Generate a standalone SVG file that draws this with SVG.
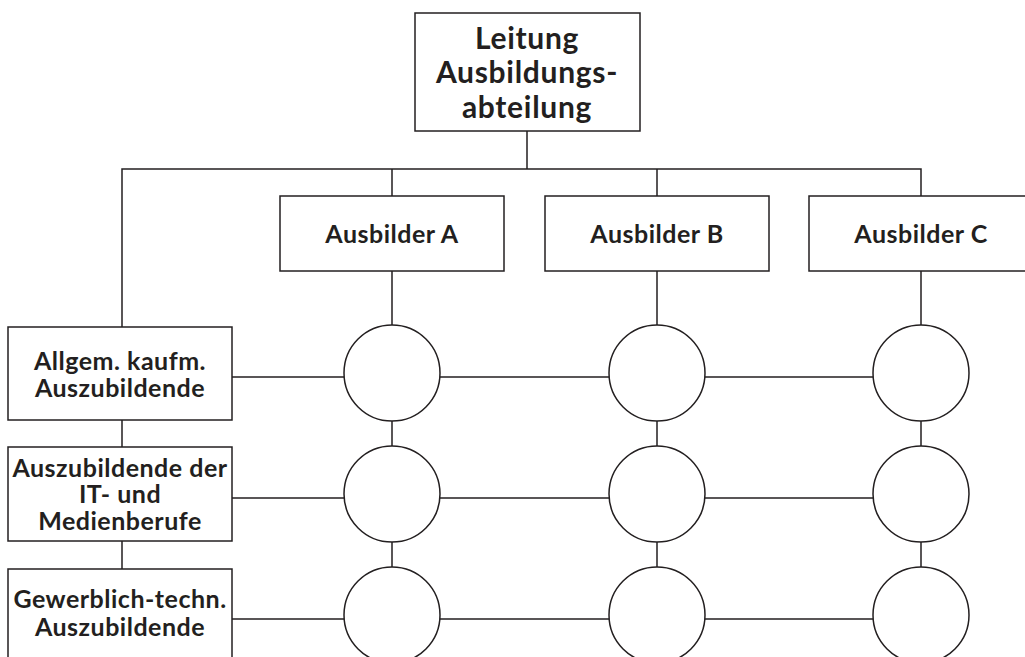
<svg xmlns="http://www.w3.org/2000/svg" width="1025" height="657" viewBox="0 0 1025 657">
<style>
.box{fill:#fff;stroke:#231f20;stroke-width:1.5}
.ln{fill:none;stroke:#231f20;stroke-width:1.5}
.c{fill:#fff;stroke:#231f20;stroke-width:1.5}
text{font-family:Lato,"Open Sans",sans-serif;font-weight:bold;fill:#231f20;text-anchor:middle}
.t1{font-size:30px;letter-spacing:0.7px}
.t2{font-size:25px;letter-spacing:0.5px}
.t3{font-size:25px;letter-spacing:0.5px}
</style>
<rect width="1025" height="657" fill="#fff"/>
<g id="connectors">
<path class="ln" d="M527 131V169M122 327V169H921V196M392 169V196M657 169V196"/>
<path class="ln" d="M392 271V657M657 271V657M921 271V657"/>
<path class="ln" d="M122 420V447M122 541V569"/>
<path class="ln" d="M232 377H874M232 498H874M232 619H874"/>
</g>
<g id="leitung">
<rect class="box" x="415" y="13" width="225" height="118"/>
<text class="t1" x="527" y="49">Leitung</text>
<text class="t1" x="527" y="83">Ausbildungs-</text>
<text class="t1" x="527" y="118">abteilung</text>
</g>
<g id="ausbilderA">
<rect class="box" x="280" y="196" width="224" height="75"/>
<text class="t2" x="392" y="243">Ausbilder A</text>
</g>
<g id="ausbilderB">
<rect class="box" x="545" y="196" width="224" height="75"/>
<text class="t2" x="657" y="243">Ausbilder B</text>
</g>
<g id="ausbilderC">
<rect class="box" x="809" y="196" width="224" height="75"/>
<text class="t2" x="921" y="243">Ausbilder C</text>
</g>
<g id="kaufm">
<rect class="box" x="8" y="327" width="224" height="93"/>
<text class="t3" x="120" y="370">Allgem. kaufm.</text>
<text class="t3" x="120" y="397">Auszubildende</text>
</g>
<g id="it">
<rect class="box" x="8" y="447" width="224" height="94"/>
<text class="t3" x="120" y="477">Auszubildende der</text>
<text class="t3" x="120" y="503">IT- und</text>
<text class="t3" x="120" y="530">Medienberufe</text>
</g>
<g id="gewerblich">
<rect class="box" x="8" y="569" width="224" height="100"/>
<text class="t3" x="120" y="608">Gewerblich-techn.</text>
<text class="t3" x="120" y="636">Auszubildende</text>
</g>
<g id="k1a"><circle class="c" cx="392" cy="373" r="48"/></g>
<g id="k1b"><circle class="c" cx="657" cy="373" r="48"/></g>
<g id="k1c"><circle class="c" cx="921" cy="373" r="48"/></g>
<g id="k2a"><circle class="c" cx="392" cy="494" r="48"/></g>
<g id="k2b"><circle class="c" cx="657" cy="494" r="48"/></g>
<g id="k2c"><circle class="c" cx="921" cy="494" r="48"/></g>
<g id="k3a"><circle class="c" cx="392" cy="615" r="48"/></g>
<g id="k3b"><circle class="c" cx="657" cy="615" r="48"/></g>
<g id="k3c"><circle class="c" cx="921" cy="615" r="48"/></g>
</svg>
